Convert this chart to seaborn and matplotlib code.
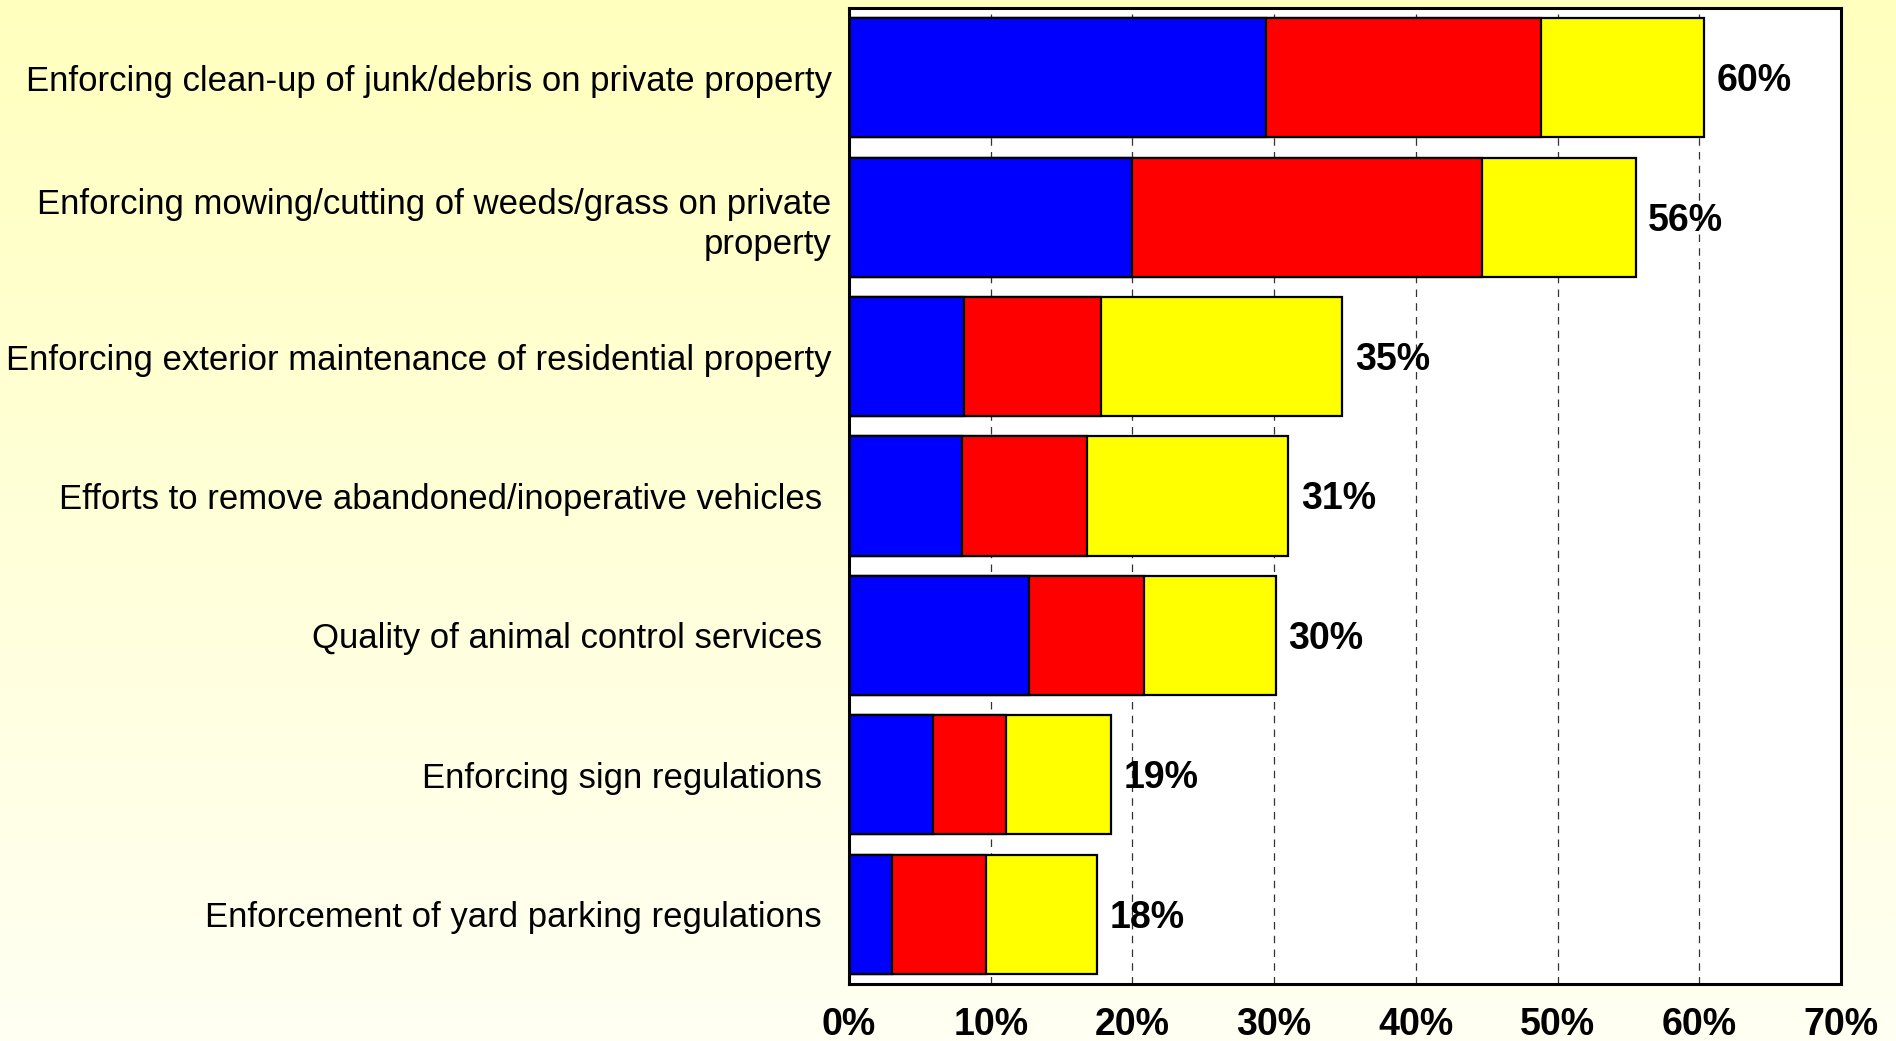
import numpy as np
import pandas as pd
import matplotlib
matplotlib.use("Agg")
import matplotlib.pyplot as plt
import seaborn as sns

# ---- data ----
categories = [
    "Enforcing clean-up of junk/debris on private property",
    "Enforcing mowing/cutting of weeds/grass on private\nproperty",
    "Enforcing exterior maintenance of residential property",
    "Efforts to remove abandoned/inoperative vehicles ",
    "Quality of animal control services ",
    "Enforcing sign regulations ",
    "Enforcement of yard parking regulations ",
]
blue_vals = [29.4, 20.0, 8.1, 8.0, 12.7, 5.9, 3.0]
red_vals = [19.4, 24.7, 9.7, 8.8, 8.1, 5.2, 6.7]
yellow_vals = [11.5, 10.8, 17.0, 14.2, 9.3, 7.4, 7.8]
total_labels = ["60%", "56%", "35%", "31%", "30%", "19%", "18%"]
xtick_values = [0, 10, 20, 30, 40, 50, 60, 70]
xtick_labels = ["0%", "10%", "20%", "30%", "40%", "50%", "60%", "70%"]

df = pd.DataFrame({
    "category": categories,
    "blue": blue_vals,
    "red": red_vals,
    "yellow": yellow_vals,
})
df["cum_blue"] = df["blue"]
df["cum_red"] = df["blue"] + df["red"]
df["cum_yellow"] = df["cum_red"] + df["yellow"]

sns.set_theme(style="white")
plt.rcParams["font.family"] = ["Liberation Sans", "DejaVu Sans"]

W, H = 1896, 1041
fig = plt.figure(figsize=(W / 100, H / 100), dpi=100)

# background gradient
bg = fig.add_axes([0, 0, 1, 1], zorder=-10)
grad = np.linspace(0, 1, 256).reshape(-1, 1)
top = np.array([255, 255, 190]) / 255.0
bot = np.array([255, 255, 243]) / 255.0
img = top[None, None, :] * (1 - grad[:, :, None]) + bot[None, None, :] * grad[:, :, None]
bg.imshow(img, aspect="auto", extent=[0, 1, 0, 1], origin="upper")
bg.set_axis_off()

left, right = 849 / W, 1841 / W
bottom, topy = 1 - 984 / H, 1 - 8 / H
ax = fig.add_axes([left, bottom, right - left, topy - bottom])
ax.set_facecolor("white")

bw = 0.855
for col, color in [("cum_yellow", "#FFFF00"), ("cum_red", "#FF0000"), ("cum_blue", "#0000FF")]:
    sns.barplot(data=df, x=col, y="category", orient="h", color=color,
                width=bw, edgecolor="black", linewidth=1.6, saturation=1,
                ax=ax, zorder=3)

for i, (tot, lab) in enumerate(zip(df["cum_yellow"], total_labels)):
    ax.annotate(lab, xy=(tot + 0.9, i), xytext=(0, -2.5), textcoords="offset points",
                va="center", ha="left", fontsize=27, fontweight="bold",
                color="black", zorder=5)

ax.set_xlim(0, 70)
ax.set_ylim(6.5, -0.5)
ax.set_xticks(xtick_values)
ax.set_xticklabels(xtick_labels, fontsize=27, fontweight="bold", color="black")
ax.tick_params(axis="x", length=0, pad=16.5, labelcolor="black")
ax.tick_params(axis="y", length=0, pad=12.5, labelcolor="black")
for t in ax.get_yticklabels():
    t.set_fontsize(25)
    t.set_linespacing(1.3)
    t.set_horizontalalignment("right")
    t.set_color("black")
ax.set_xlabel("")
ax.set_ylabel("")
ax.xaxis.grid(True, color="#333333", linestyle=(0, (6, 5)), linewidth=0.9, zorder=0)
ax.yaxis.grid(False)
ax.set_axisbelow(True)
for s in ax.spines.values():
    s.set_visible(True)
    s.set_color("black")
    s.set_linewidth(2.2)
    s.set_zorder(6)

fig.savefig("out.png", dpi=100)
